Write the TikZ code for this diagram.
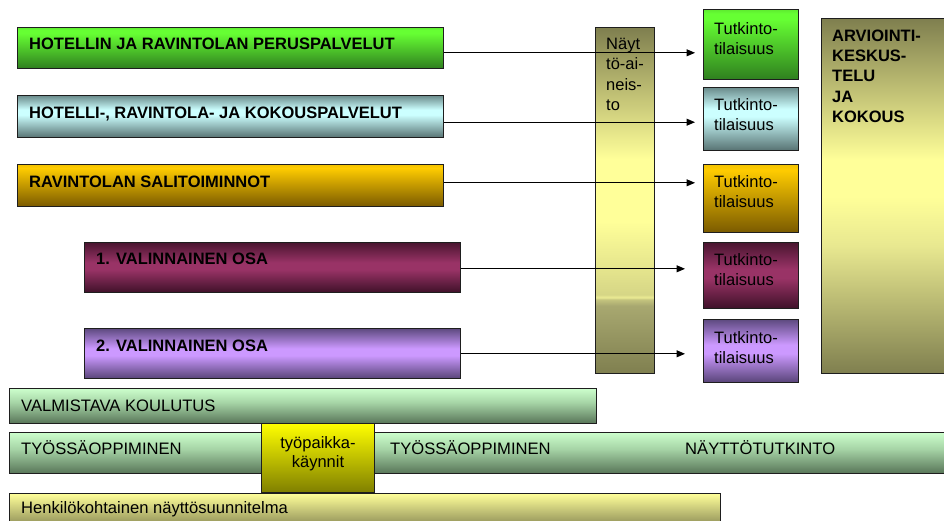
\documentclass[tikz,border=0pt]{standalone}
\usepackage{fontspec}
\setmainfont{Liberation Sans}
\usetikzlibrary{arrows.meta}

% colour stops for the box gradients
\definecolor{gTop}{HTML}{5EEB30}
\definecolor{gMid}{HTML}{66FF33}
\definecolor{gBot}{HTML}{2F7F1F}
\definecolor{cTop}{HTML}{6B8C8C}
\definecolor{cMid}{HTML}{CCFFFF}
\definecolor{cBot}{HTML}{577272}
\definecolor{oTop}{HTML}{FFCC00}
\definecolor{oEdge}{HTML}{F2C200}
\definecolor{oBot}{HTML}{7A5A00}
\definecolor{mTop}{HTML}{4A1530}
\definecolor{mMid}{HTML}{993366}
\definecolor{mBot}{HTML}{3F1129}
\definecolor{pTop}{HTML}{5E4A80}
\definecolor{pMid}{HTML}{CC99FF}
\definecolor{pBot}{HTML}{584478}
\definecolor{nTop}{HTML}{CCFFCC}
\definecolor{nMid}{HTML}{A6D4A6}
\definecolor{nBot}{HTML}{587558}
\definecolor{yTop}{HTML}{FFFF00}
\definecolor{yBot}{HTML}{7F7F00}
\definecolor{lTop}{HTML}{FFFF99}
\definecolor{lBot}{HTML}{808050}
\definecolor{olive}{HTML}{7F7F4F}
\definecolor{oliveA}{HTML}{A8A870}
\definecolor{oliveB}{HTML}{C4C47E}
\definecolor{bandL}{HTML}{ECEC94}
\definecolor{bandM}{HTML}{D6D686}
\definecolor{paleY}{HTML}{E8E890}
\definecolor{edge}{HTML}{1E1E1E}

\pgfdeclareverticalshading{shGreen}{100bp}{color(0bp)=(gBot); color(25bp)=(gBot); color(68bp)=(gMid); color(72bp)=(gMid); color(75bp)=(gTop); color(100bp)=(gTop)}
\pgfdeclareverticalshading{shCyan}{100bp}{color(0bp)=(cBot); color(25bp)=(cBot); color(52bp)=(cMid); color(58bp)=(cMid); color(75bp)=(cTop); color(100bp)=(cTop)}
\pgfdeclareverticalshading{shGold}{100bp}{color(0bp)=(oBot); color(25bp)=(oBot); color(71bp)=(oTop); color(75bp)=(oEdge); color(100bp)=(oEdge)}
\pgfdeclareverticalshading{shMaroon}{100bp}{color(0bp)=(mBot); color(25bp)=(mBot); color(48bp)=(mMid); color(55bp)=(mMid); color(75bp)=(mTop); color(100bp)=(mTop)}
\pgfdeclareverticalshading{shPurple}{100bp}{color(0bp)=(pBot); color(25bp)=(pBot); color(48bp)=(pMid); color(55bp)=(pMid); color(75bp)=(pTop); color(100bp)=(pTop)}
\pgfdeclareverticalshading{shMint}{100bp}{color(0bp)=(nBot); color(25bp)=(nBot); color(55bp)=(nMid); color(75bp)=(nTop); color(100bp)=(nTop)}
\pgfdeclareverticalshading{shYellow}{100bp}{color(0bp)=(yBot); color(25bp)=(yBot); color(75bp)=(yTop); color(100bp)=(yTop)}
\pgfdeclareverticalshading{shPale}{100bp}{color(0bp)=(lBot); color(25bp)=(lBot); color(75bp)=(lTop); color(100bp)=(lTop)}
\pgfdeclareverticalshading{shArv}{100bp}{color(0bp)=(olive); color(25bp)=(olive); color(43bp)=(paleY); color(50bp)=(lTop); color(55bp)=(lTop); color(75bp)=(olive); color(100bp)=(olive)}
\pgfdeclareverticalshading{shNayt}{100bp}{color(0bp)=(olive); color(25bp)=(olive); color(34.8bp)=(oliveA); color(35.7bp)=(oliveB); color(36.0bp)=(bandL); color(36.4bp)=(bandM); color(47bp)=(lTop); color(56bp)=(lTop); color(75bp)=(olive); color(100bp)=(olive)}

\tikzset{
  bx/.style={draw=edge, line width=1pt, inner sep=0pt, anchor=north west, shade},
  lbl/.style={inner sep=0pt, font=\fontsize{16.5}{20}\selectfont\bfseries, anchor=base west},
  plain/.style={inner sep=0pt, font=\fontsize{16.6}{20}\selectfont, anchor=base west},
  multi/.style={inner sep=0pt, align=left, anchor=north west},
  arr/.style={line width=1pt, -{Triangle[length=8.5pt,width=7pt]}}
}

\begin{document}
\begin{tikzpicture}[x=1pt,y=-1pt]
\useasboundingbox (0,0) rectangle (944,520);
\fill[white] (0,0) rectangle (944,520);
\clip (0,0) rectangle (944,520);

% study modules on the left
\node[bx, shading=shGreen, minimum width=426pt, minimum height=41pt] (hot) at (17,27) {};
\node[bx, shading=shCyan, minimum width=426pt, minimum height=42pt] (hrk) at (17,95) {};
\node[bx, shading=shGold, minimum width=426pt, minimum height=42pt] (sal) at (17,164) {};
\node[bx, shading=shMaroon, minimum width=376pt, minimum height=50pt] (va1) at (84,242) {};
\node[bx, shading=shPurple, minimum width=376pt, minimum height=50pt] (va2) at (84,328) {};

\node[lbl] (hot-t) at (29,49) {HOTELLIN JA RAVINTOLAN PERUSPALVELUT};
\node[lbl] (hrk-t) at (29,118.5) {HOTELLI-, RAVINTOLA- JA KOKOUSPALVELUT};
\node[lbl] (sal-t) at (29,187.5) {RAVINTOLAN SALITOIMINNOT};
\node[lbl] (va1-t) at (96,264) {1. VALINNAINEN OSA};
\node[lbl] (va2-t) at (96,351.5) {2. VALINNAINEN OSA};

% evidence column
\node[bx, shading=shNayt, minimum width=59pt, minimum height=346pt] (nay) at (595,27) {};
\node[multi, font=\fontsize{16.5}{20.5}\selectfont] (nay-t) at (606,37.5) {Näyt\\tö-ai-\\neis-\\to};

% examination events
\node[bx, shading=shGreen, minimum width=95pt, minimum height=70pt] (t1) at (703,9) {};
\node[bx, shading=shCyan, minimum width=95pt, minimum height=63pt] (t2) at (703,87) {};
\node[bx, shading=shGold, minimum width=95pt, minimum height=68pt] (t3) at (703,164) {};
\node[bx, shading=shMaroon, minimum width=95pt, minimum height=66pt] (t4) at (703,242) {};
\node[bx, shading=shPurple, minimum width=95pt, minimum height=63pt] (t5) at (703,319) {};

\node[multi, font=\fontsize{16.5}{20}\selectfont] (t1-t) at (714,22) {Tutkinto-\\tilaisuus};
\node[multi, font=\fontsize{16.5}{20}\selectfont] (t2-t) at (714,98.3) {Tutkinto-\\tilaisuus};
\node[multi, font=\fontsize{16.5}{20}\selectfont] (t3-t) at (714,175.5) {Tutkinto-\\tilaisuus};
\node[multi, font=\fontsize{16.5}{20}\selectfont] (t4-t) at (714,253.3) {Tutkinto-\\tilaisuus};
\node[multi, font=\fontsize{16.5}{20}\selectfont] (t5-t) at (714,331.5) {Tutkinto-\\tilaisuus};

% assessment discussion
\node[bx, shading=shArv, minimum width=140pt, minimum height=355pt] (arv) at (821,18) {};
\node[multi, font=\fontsize{16.5}{20.3}\selectfont\bfseries] (arv-t) at (832,29.5) {ARVIOINTI-\\KESKUS-\\TELU\\JA\\KOKOUS};

% connectors from modules to examination events
\draw[arr, shorten >=8pt] ([yshift=-4.8pt]hot.east) coordinate (a1) -- (a1 -| t1.west);
\draw[arr, shorten >=8pt] ([yshift=-5.7pt]hrk.east) coordinate (a2) -- (a2 -| t2.west);
\draw[arr, shorten >=8pt] ([yshift=2.7pt]sal.east) coordinate (a3) -- (a3 -| t3.west);
\draw[arr, shorten >=18pt] ([yshift=-1.3pt]va1.east) coordinate (a4) -- (a4 -| t4.west);
\draw[arr, shorten >=18pt] ([yshift=-0.3pt]va2.east) coordinate (a5) -- (a5 -| t5.west);

% timeline bars
\node[bx, shading=shMint, minimum width=587pt, minimum height=35pt] (val) at (9,388) {};
\node[bx, shading=shMint, minimum width=945pt, minimum height=41pt] (tyo) at (9,432) {};
\node[bx, shading=shPale, minimum width=711pt, minimum height=36pt] (hen) at (9,493) {};
\node[bx, shading=shYellow, minimum width=113pt, minimum height=69pt] (kay) at (261,423) {};

\node[plain] (val-t) at (21,411.5) {VALMISTAVA KOULUTUS};
\node[plain] (tyo-t1) at (21,454) {TYÖSSÄOPPIMINEN};
\node[plain] (tyo-t2) at (390,454) {TYÖSSÄOPPIMINEN};
\node[plain] (nt-t) at (685,454) {NÄYTTÖTUTKINTO};
\node[plain] (hen-t) at (21,513) {Henkilökohtainen näyttösuunnitelma};
\node[inner sep=0pt, align=center, anchor=north, font=\fontsize{16.5}{19.5}\selectfont] (kay-t) at (318,436.3) {työpaikka-\\käynnit};
\end{tikzpicture}
\end{document}
